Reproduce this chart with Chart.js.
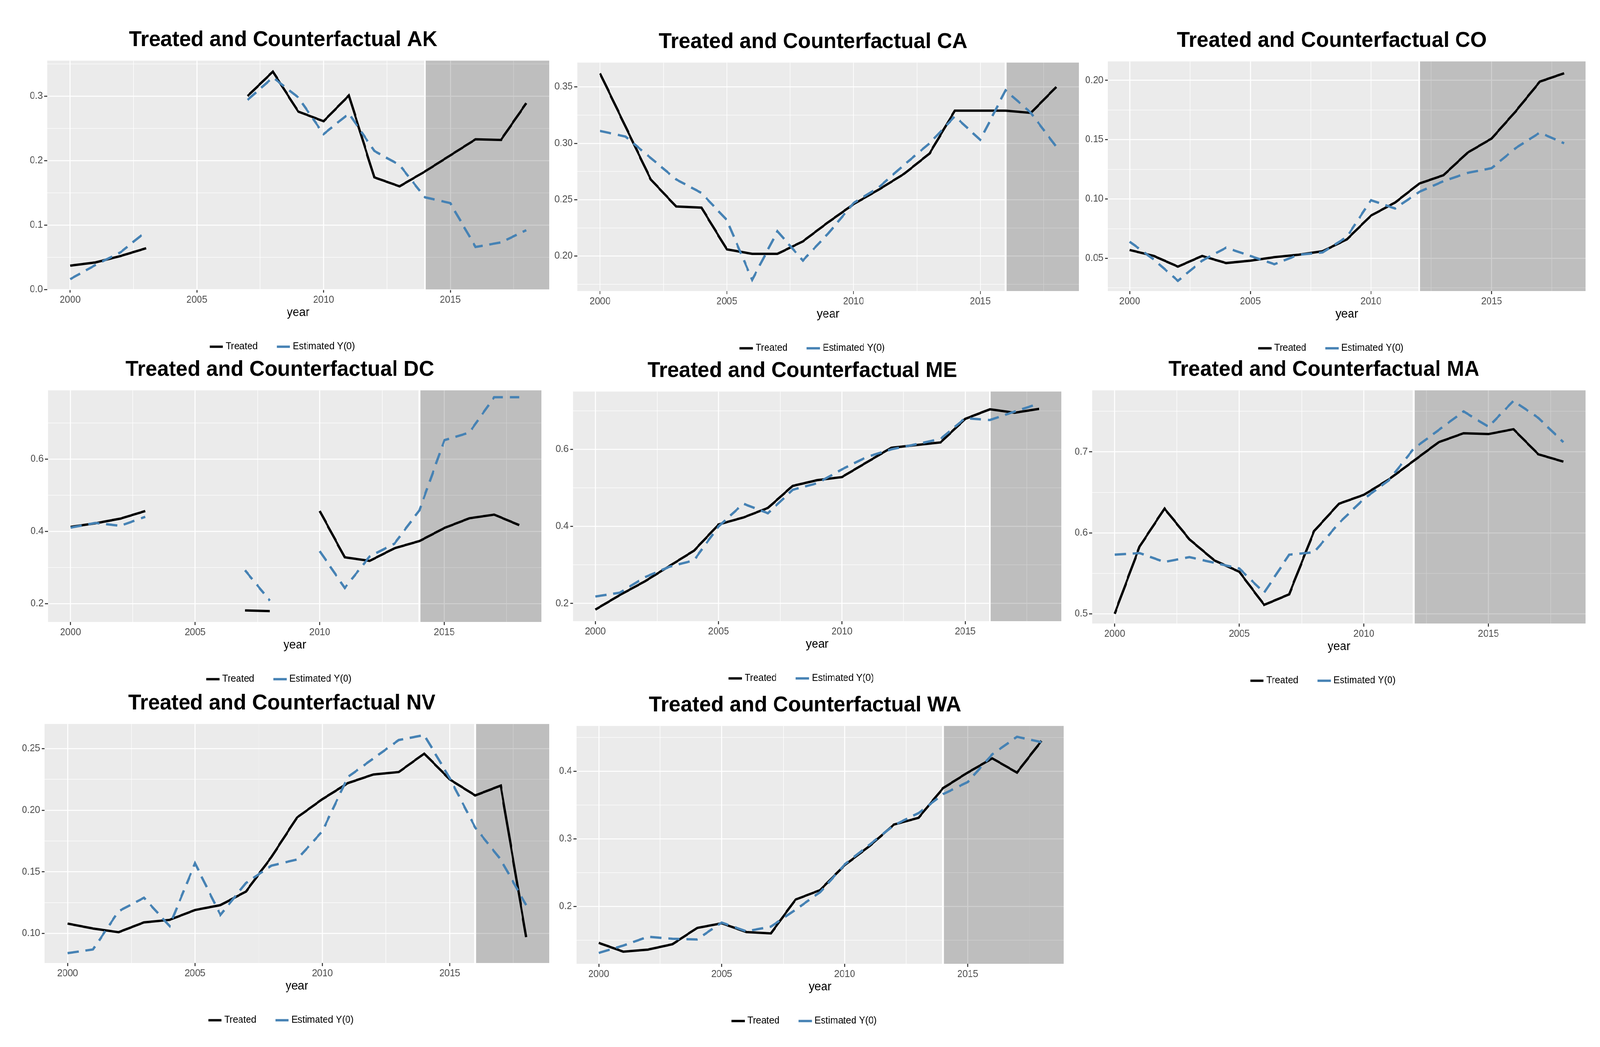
<!DOCTYPE html>
<html>
<head>
<meta charset="utf-8">
<script src="https://cdn.jsdelivr.net/npm/chart.js@4.4.0/dist/chart.umd.min.js"></script>
<style>
  html, body { margin: 0; background: #fff; overflow: hidden; }
  #page { position: absolute; left: 0; top: 0; width: 4260px; height: 2680px; transform-origin: 0 0; }
  canvas { position: absolute; }
</style>
</head>
<body>
<div id="page"></div>
<script>
// years 2000..2018, null = missing
const years = [2000, 2001, 2002, 2003, 2004, 2005, 2006, 2007, 2008, 2009, 2010, 2011, 2012, 2013, 2014, 2015, 2016, 2017, 2018];
const xTicks = [2000, 2005, 2010, 2015];
const seriesNames = ['Treated', 'Estimated Y(0)'];

const akTreated = [0.037, 0.042, 0.052, 0.064, null, null, null, 0.300, 0.338, 0.276, 0.261, 0.301, 0.174, 0.160, 0.183, 0.208, 0.233, 0.232, 0.289];
const akEst     = [0.016, 0.038, 0.058, 0.090, null, null, null, 0.294, 0.329, 0.298, 0.241, 0.273, 0.215, 0.193, 0.143, 0.134, 0.066, 0.073, 0.092];
const caTreated = [0.362, 0.315, 0.268, 0.244, 0.243, 0.206, 0.202, 0.202, 0.213, 0.230, 0.246, 0.259, 0.273, 0.291, 0.329, 0.329, 0.329, 0.327, 0.350];
const caEst     = [0.311, 0.306, 0.287, 0.268, 0.256, 0.232, 0.179, 0.222, 0.196, 0.220, 0.247, 0.261, 0.281, 0.300, 0.324, 0.303, 0.347, 0.327, 0.297];
const coTreated = [0.057, 0.052, 0.043, 0.052, 0.046, 0.048, 0.051, 0.053, 0.056, 0.066, 0.086, 0.097, 0.113, 0.120, 0.139, 0.151, 0.174, 0.199, 0.206];
const coEst     = [0.064, 0.049, 0.031, 0.048, 0.059, 0.052, 0.045, 0.053, 0.055, 0.068, 0.099, 0.092, 0.106, 0.115, 0.122, 0.126, 0.143, 0.156, 0.147];
const dcTreated = [0.412, 0.422, 0.435, 0.456, null, null, null, 0.181, 0.179, null, 0.456, 0.328, 0.318, 0.353, 0.373, 0.409, 0.436, 0.446, 0.417];
const dcEst     = [0.410, 0.423, 0.415, 0.440, null, null, null, 0.292, 0.208, null, 0.345, 0.243, 0.330, 0.366, 0.458, 0.652, 0.673, 0.771, 0.771];
const meTreated = [0.184, 0.222, 0.257, 0.297, 0.337, 0.405, 0.423, 0.448, 0.505, 0.520, 0.528, 0.566, 0.604, 0.611, 0.618, 0.679, 0.704, 0.695, 0.705];
const meEst     = [0.218, 0.228, 0.268, 0.295, 0.312, 0.400, 0.459, 0.434, 0.495, 0.512, 0.548, 0.580, 0.600, 0.613, 0.627, 0.681, 0.676, 0.698, 0.719];
const maTreated = [0.500, 0.583, 0.630, 0.592, 0.566, 0.552, 0.511, 0.524, 0.602, 0.636, 0.647, 0.666, 0.689, 0.712, 0.723, 0.722, 0.728, 0.697, 0.688];
const maEst     = [0.573, 0.575, 0.564, 0.570, 0.563, 0.556, 0.526, 0.573, 0.576, 0.612, 0.642, 0.665, 0.704, 0.727, 0.750, 0.731, 0.763, 0.742, 0.712];
const nvTreated = [0.108, 0.104, 0.101, 0.109, 0.111, 0.119, 0.123, 0.134, 0.162, 0.194, 0.209, 0.222, 0.229, 0.231, 0.246, 0.225, 0.212, 0.220, 0.097];
const nvEst     = [0.084, 0.087, 0.118, 0.129, 0.106, 0.157, 0.115, 0.141, 0.155, 0.160, 0.183, 0.227, 0.242, 0.257, 0.261, 0.226, 0.186, 0.160, 0.123];
const waTreated = [0.146, 0.133, 0.136, 0.144, 0.168, 0.175, 0.162, 0.160, 0.210, 0.224, 0.261, 0.289, 0.321, 0.331, 0.375, 0.398, 0.419, 0.398, 0.445];
const waEst     = [0.131, 0.142, 0.155, 0.152, 0.151, 0.176, 0.163, 0.170, 0.195, 0.221, 0.262, 0.291, 0.320, 0.338, 0.366, 0.384, 0.425, 0.451, 0.443];

// treatment start year per state
const states     = ['AK', 'CA', 'CO', 'DC', 'ME', 'MA', 'NV', 'WA'];
const treatYears = [2014, 2016, 2012, 2014, 2016, 2012, 2016, 2014];
const treatedAll = [akTreated, caTreated, coTreated, dcTreated, meTreated, maTreated, nvTreated, waTreated];
const estAll     = [akEst, caEst, coEst, dcEst, meEst, maEst, nvEst, waEst];

// y axis limits and tick step per state
const yMins  = [0.0, 0.169, 0.0224, 0.149, 0.154, 0.488, 0.076, 0.115];
const yMaxs  = [0.355, 0.3716, 0.216, 0.790, 0.750, 0.776, 0.270, 0.467];
const ySteps = [0.1, 0.05, 0.05, 0.2, 0.2, 0.1, 0.05, 0.1];

// plot-area rectangles [left, top, right, bottom] in page pixels
const plotRects = [
  [126, 155, 1462, 706], [1537, 160, 2873, 710], [2950, 157, 4222, 710],
  [128, 999, 1442, 1557], [1526, 1002, 2826, 1555], [2908, 999, 4222, 1561],
  [119, 1853, 1462, 2430], [1535, 1858, 2832, 2432]
];

const Y_AXIS_W = 80, LEFT_PAD = 10, TOP_H = 110, X_AXIS_H = 78, LEGEND_PAD = 56, LEGEND_H = 126;

const page = document.getElementById('page');
// fit the 4260x2680 layout to whatever viewport we get
page.style.transform = 'scale(' + (window.innerWidth / 4260) + ',' + (window.innerHeight / 2680) + ')';

const bgPlugin = {
  id: 'panelBg',
  beforeDraw(chart) {
    const a = chart.chartArea, c = chart.ctx;
    c.save();
    c.fillStyle = '#EBEBEB';
    c.fillRect(a.left, a.top, a.right - a.left, a.bottom - a.top);
    c.restore();
  },
  beforeDatasetsDraw(chart, args, opts) {
    const a = chart.chartArea, c = chart.ctx;
    const x0 = chart.scales.x.getPixelForValue(opts.start);
    c.save();
    c.strokeStyle = '#ffffff';
    c.lineWidth = 5;
    c.beginPath(); c.moveTo(x0, a.top); c.lineTo(x0, a.bottom); c.stroke();
    c.fillStyle = 'rgba(0,0,0,0.19)';
    c.fillRect(x0 + 2.5, a.top, a.right - x0 - 2.5, a.bottom - a.top);
    c.restore();
  }
};

function halfTicks(min, max, step) {
  const h = step / 2, out = [];
  for (let v = Math.ceil(min / h - 1e-9) * h; v <= max + 1e-9; v += h) out.push(Math.round(v * 1000) / 1000);
  return out;
}
function isMajor(v, step) {
  const r = v / step;
  return Math.abs(r - Math.round(r)) < 1e-6;
}

states.forEach((st, i) => {
  const [pl, pt, pr, pb] = plotRects[i];
  const canvas = document.createElement('canvas');
  const w = (pr - pl) + Y_AXIS_W + LEFT_PAD + 10;
  const h = (pb - pt) + TOP_H + X_AXIS_H + LEGEND_H;
  canvas.width = w; canvas.height = h;
  canvas.style.left = (pl - Y_AXIS_W - LEFT_PAD) + 'px';
  canvas.style.top = (pt - TOP_H) + 'px';
  page.appendChild(canvas);

  const step = ySteps[i];
  const decimals = step < 0.1 ? 2 : 1;
  const xs = halfTicks(1999.1, 2018.9, 5);
  const ys = halfTicks(yMins[i], yMaxs[i], step);

  new Chart(canvas, {
    type: 'line',
    data: {
      datasets: [{
        label: seriesNames[0],
        data: years.map((yr, k) => ({ x: yr, y: treatedAll[i][k] })),
        borderColor: '#000000',
        backgroundColor: '#000000',
        borderWidth: 6,
        order: 2
      }, {
        label: seriesNames[1],
        data: years.map((yr, k) => ({ x: yr, y: estAll[i][k] })),
        borderColor: '#4682B4',
        backgroundColor: '#4682B4',
        borderWidth: 6,
        borderDash: [30, 18],
        order: 1
      }]
    },
    options: {
      responsive: false,
      animation: false,
      devicePixelRatio: 1,
      spanGaps: false,
      elements: { point: { radius: 0 }, line: { tension: 0 } },
      layout: { padding: { left: LEFT_PAD, right: 10, top: 0, bottom: 0 } },
      scales: {
        x: {
          type: 'linear', min: 1999.1, max: 2018.9,
          afterBuildTicks: s => { s.ticks = xs.map(v => ({ value: v })); },
          afterFit: s => { s.height = X_AXIS_H; },
          border: { display: false },
          grid: {
            color: '#ffffff',
            lineWidth: c => (c.tick && isMajor(c.tick.value, 5)) ? 2.6 : 1.3,
            tickColor: c => (c.tick && isMajor(c.tick.value, 5)) ? '#333333' : 'rgba(0,0,0,0)',
            tickLength: 8
          },
          ticks: {
            autoSkip: false, maxRotation: 0, padding: 4,
            color: '#4D4D4D', font: { family: 'Liberation Sans', size: 25 },
            callback: v => xTicks.includes(v) ? String(v) : ''
          },
          title: { display: true, text: 'year', color: '#000000', font: { family: 'Liberation Sans', size: 31 }, padding: { top: 0, bottom: 0 } }
        },
        y: {
          min: yMins[i], max: yMaxs[i],
          afterBuildTicks: s => { s.ticks = ys.map(v => ({ value: v })); },
          afterFit: s => { s.width = Y_AXIS_W; },
          border: { display: false },
          grid: {
            color: '#ffffff',
            lineWidth: c => (c.tick && isMajor(c.tick.value, step)) ? 2.6 : 1.3,
            tickColor: c => (c.tick && isMajor(c.tick.value, step)) ? '#333333' : 'rgba(0,0,0,0)',
            tickLength: 8
          },
          ticks: {
            autoSkip: false, padding: 4,
            color: '#4D4D4D', font: { family: 'Liberation Sans', size: 25 },
            callback: v => isMajor(v, step) ? v.toFixed(decimals) : ''
          }
        }
      },
      plugins: {
        panelBg: { start: treatYears[i] },
        title: {
          display: true,
          text: 'Treated and Counterfactual ' + st,
          color: '#000000',
          font: { family: 'Liberation Sans', size: 56, weight: 'bold' },
          padding: { top: 24, bottom: 19 }
        },
        legend: {
          display: true, position: 'bottom',
          labels: {
            usePointStyle: true, pointStyle: 'line', boxWidth: 40,
            sort: (a, b) => a.datasetIndex - b.datasetIndex,
            color: '#000000', font: { family: 'Liberation Sans', size: 25 }, padding: LEGEND_PAD
          }
        },
        tooltip: { enabled: false }
      }
    },
    plugins: [bgPlugin]
  });
});
</script>
</body>
</html>
